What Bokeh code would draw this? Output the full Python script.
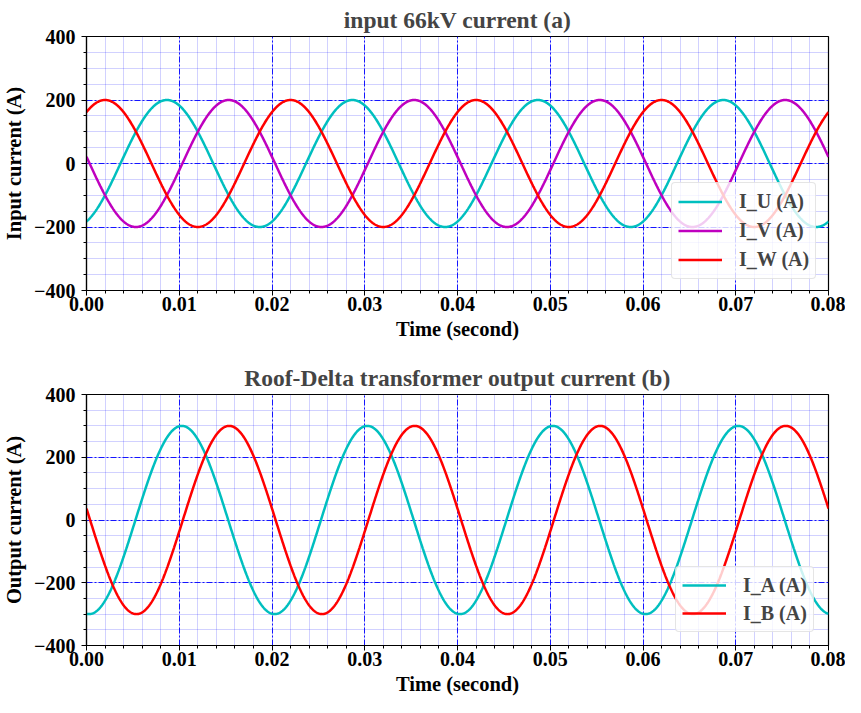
import numpy as np
from bokeh.plotting import figure
from bokeh.layouts import column
from bokeh.models import FixedTicker, Legend, LegendItem, Range1d
from bokeh.embed import file_html
from bokeh.resources import INLINE

# ---- data (sinusoidal currents, 50 Hz) ----
freq_hz = 50.0
t_start, t_end = 0.0, 0.08

input_labels = ["I_U (A)", "I_V (A)", "I_W (A)"]
input_amp = [200.0, 200.0, 200.0]
input_phase_deg = [-66.0, 174.0, 54.0]
input_colors = ["#00bfbf", "#bf00bf", "#ff0000"]

output_labels = ["I_A (A)", "I_B (A)"]
output_amp = [300.0, 300.0]
output_phase_deg = [-95.0, 173.0]
output_colors = ["#00bfbf", "#ff0000"]

x_ticks = [0.00, 0.01, 0.02, 0.03, 0.04, 0.05, 0.06, 0.07, 0.08]
x_tick_labels = ["0.00", "0.01", "0.02", "0.03", "0.04", "0.05", "0.06", "0.07", "0.08"]
y_ticks = [-400, -200, 0, 200, 400]
y_tick_labels = ["\u2212400", "\u2212200", "0", "200", "400"]
x_minor = [round(i * 0.002, 4) for i in range(41)]
y_minor = [-400 + 50 * i for i in range(17)]

titles = ["input 66kV current (a)", "Roof-Delta transformer output current (b)"]
y_titles = ["Input current (A)", "Output current (A)"]
x_title = "Time (second)"

FONT = "Liberation Serif"
t = np.linspace(t_start, t_end, 1601)


def make_fig(title, ytitle, labels, amps, phases, colors, height, top, bottom,
             legend_loc, glyph_h, pad):
    p = figure(width=845, height=height, min_border_left=83, min_border_right=17,
               min_border_top=top, min_border_bottom=bottom,
               x_range=Range1d(t_start, t_end), y_range=Range1d(-400, 400),
               output_backend="svg", toolbar_location=None)
    p.title.text = title
    p.title.align = "center"
    p.title.text_font = FONT
    p.title.text_font_size = "23.5px"
    p.title.text_font_style = "bold"
    p.title.standoff = 8
    p.outline_line_color = "black"
    p.outline_line_width = 1.2
    p.outline_line_alpha = 1

    p.xaxis.ticker = FixedTicker(ticks=x_ticks, minor_ticks=x_minor)
    p.yaxis.ticker = FixedTicker(ticks=y_ticks, minor_ticks=y_minor)
    p.xaxis.major_label_overrides = dict(zip(x_ticks, x_tick_labels))
    p.yaxis.major_label_overrides = dict(zip(y_ticks, y_tick_labels))
    for ax in (p.xaxis, p.yaxis):
        ax.major_label_text_font = FONT
        ax.major_label_text_font_size = "20px"
        ax.major_label_text_font_style = "bold"
        ax.major_label_text_color = "black"
        ax.axis_label_text_font = FONT
        ax.axis_label_text_font_size = "20.5px"
        ax.axis_label_text_font_style = "bold"
        ax.axis_label_text_color = "black"
        ax.major_tick_in = 0
        ax.major_tick_out = 5
        ax.minor_tick_in = 0
        ax.minor_tick_out = 3
        ax.axis_line_color = "black"
        ax.axis_line_width = 1.2
    p.xaxis.major_label_standoff = 1
    p.xaxis.axis_label_standoff = 4
    p.yaxis.major_label_standoff = 6
    p.yaxis.axis_label_standoff = 6
    p.xaxis.axis_label = x_title
    p.yaxis.axis_label = ytitle

    for g in (p.xgrid, p.ygrid):
        g.grid_line_color = "#0000ff"
        g.grid_line_alpha = 0.9
        g.grid_line_width = 1
        g.grid_line_dash = "6 2 2 2"
        g.minor_grid_line_color = "#0000ff"
        g.minor_grid_line_alpha = 0.18
        g.minor_grid_line_width = 1

    items = []
    for lab, a, ph, c in zip(labels, amps, phases, colors):
        y = a * np.sin(2 * np.pi * freq_hz * t + np.deg2rad(ph))
        r = p.line(t, y, line_color=c, line_width=2.5)
        items.append(LegendItem(label=lab, renderers=[r]))

    leg = Legend(items=items, location=legend_loc)
    leg.margin = 0
    leg.padding = pad
    leg.spacing = 4
    leg.glyph_width = 44
    leg.glyph_height = glyph_h
    leg.label_height = glyph_h
    leg.label_standoff = 17
    leg.label_text_font = FONT
    leg.label_text_font_size = "20px"
    leg.label_text_font_style = "bold"
    leg.label_text_baseline = "middle"
    leg.background_fill_color = "white"
    leg.background_fill_alpha = 0.8
    leg.border_line_color = "#cccccc"
    leg.border_line_width = 1
    if "border_radius" in Legend.properties():
        leg.border_radius = 4
    p.add_layout(leg)
    return p


H1 = 356
p1 = make_fig(titles[0], y_titles[0], input_labels, input_amp, input_phase_deg, input_colors,
              H1, 36, 66, (585, 11), 25, 6)
p2 = make_fig(titles[1], y_titles[1], output_labels, output_amp, output_phase_deg, output_colors,
              697 - H1, 38, 50, (589, 13), 24, 6)

layout = column(p1, p2, spacing=0)
open("out.html", "w").write(file_html(layout, INLINE))
